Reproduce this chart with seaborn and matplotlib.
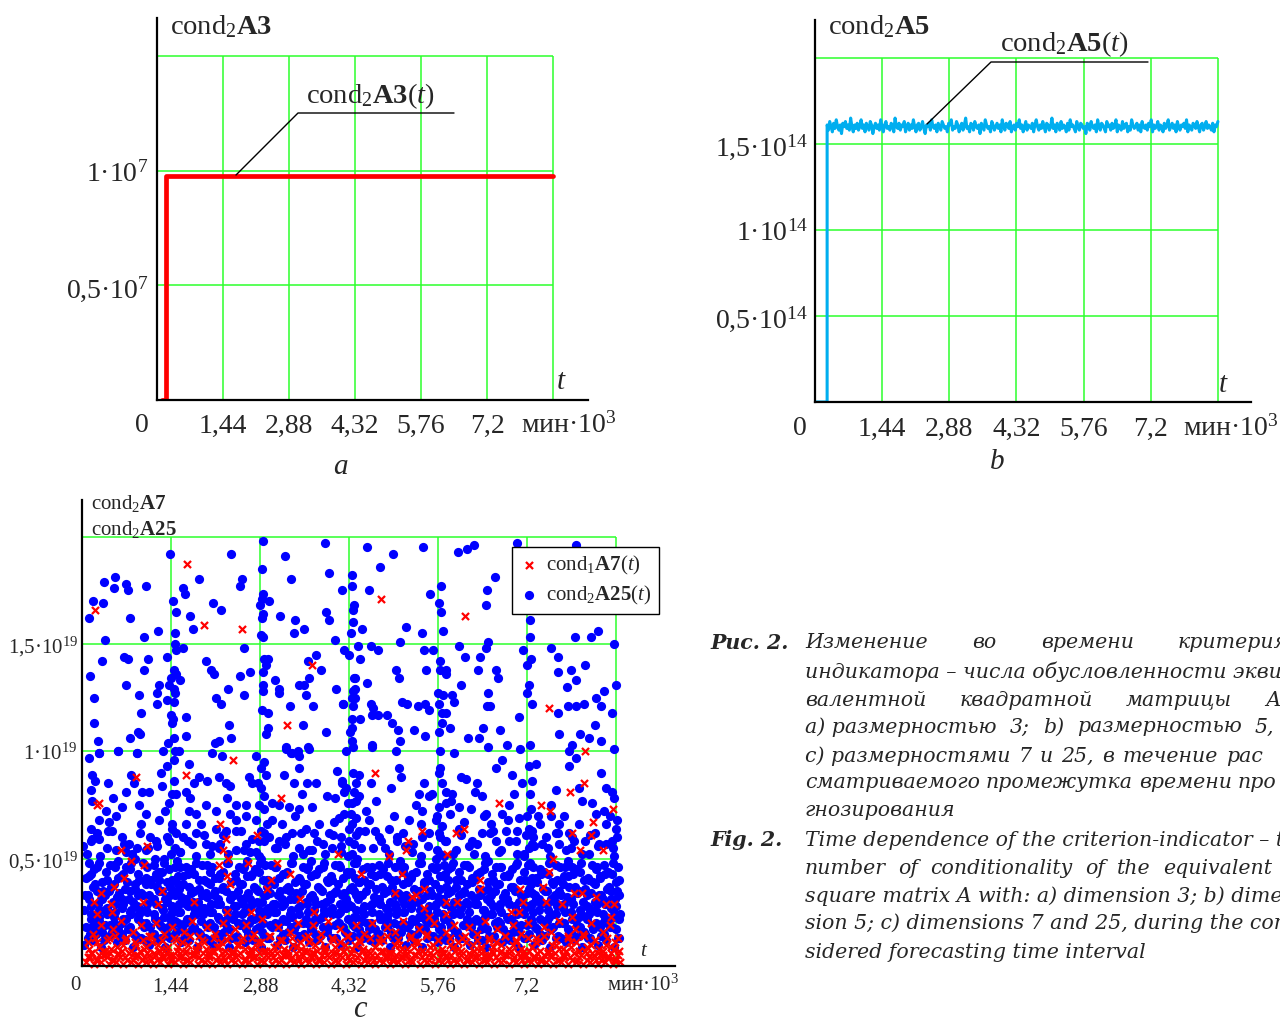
import numpy as np
import pandas as pd
import matplotlib
matplotlib.use('Agg')
import matplotlib.pyplot as plt
from matplotlib.lines import Line2D
import seaborn as sns

sns.set_style('white')
plt.rcParams['font.family'] = ['Liberation Serif', 'DejaVu Serif']
plt.rcParams['mathtext.fontset'] = 'custom'
plt.rcParams['mathtext.rm'] = 'Liberation Serif'
plt.rcParams['mathtext.it'] = 'Liberation Serif:italic'
plt.rcParams['mathtext.bf'] = 'Liberation Serif:bold'

# ---- shared axis data (time in 10^3 min) ----
x_ticks = [1.44, 2.88, 4.32, 5.76, 7.2, 8.64]
x_labels = ['1,44', '2,88', '4,32', '5,76', '7,2']

# ---- panel a: cond2 A3 (units of 1e7) ----
a_t = [0.10, 0.20, 0.20, 8.64]
a_val = [0.0, 0.0, 0.98, 0.98]
a_yticks = [0.5, 1.0]
a_ylabels = ['0,5·10$^{7}$', '1·10$^{7}$']

# ---- panel b: cond2 A5 (units of 1e14), values in hundredths ----
b_start = [0.0, 0.26]
b_noise = [
    161, 158, 163, 160, 157, 162, 159, 164, 160, 158, 161, 156, 162, 160, 163, 159, 161, 158, 165, 160,
    157, 161, 159, 162, 158, 160, 164, 159, 161, 157, 162, 160, 158, 163, 161, 156, 160, 162, 159, 161,
    158, 164, 160, 157, 161, 163, 159, 160, 158, 162, 161, 157, 165, 160, 159, 162, 158, 161, 160, 163,
    157, 160, 162, 158, 161, 159, 164, 160, 157, 161, 162, 158, 160, 163, 159, 156, 161, 160, 162, 158,
    164, 160, 159, 161, 157, 162, 160, 158, 163, 161, 159, 160, 157, 162, 161, 164, 158, 160, 159, 163,
    161, 157, 160, 162, 158, 161, 165, 159, 160, 157, 162, 161, 158, 163, 160, 159, 161, 156, 162, 160,
    158, 164, 161, 159, 160, 157, 163, 161, 158, 160, 162, 159, 161, 157, 164, 160, 158, 162, 161, 159,
    163, 157, 160, 161, 158, 162, 160, 164, 159, 161, 157, 160, 163, 158, 161, 160, 159, 162, 157, 161,
    164, 160, 158, 161, 159, 163, 160, 157, 162, 161, 158, 160, 165, 159, 161, 157, 162, 160, 158, 163,
    159, 161, 160, 157, 162, 158, 164, 160, 161, 159, 157, 163, 160, 158, 162, 161, 159, 160, 156, 162,
    161, 158, 163, 160, 159, 161, 157, 164, 160, 158, 162, 161, 159, 157, 163, 160, 161, 158, 162, 159,
    160, 164, 157, 161, 160, 158, 163, 159, 161, 162, 157, 160, 158, 164, 161, 159, 160, 162, 158, 161,
    157, 163, 160, 159, 161, 158, 162, 160, 164, 157, 161, 159, 160, 163, 158, 161, 160, 157, 162, 159,
    161, 164, 158, 160, 162, 159, 161, 157, 163, 160, 158, 161, 160, 162, 159, 164, 157, 161, 160, 158,
    162, 161, 159, 163, 160, 157, 161, 162, 158, 160, 163, 159, 161, 160, 158, 162, 157, 161, 160, 163,
]
b_yticks = [0.5, 1.0, 1.5]
b_ylabels = ['0,5·10$^{14}$', '1·10$^{14}$', '1,5·10$^{14}$']

# ---- panel c: scatter (t*100, value*100 in units of 1e19) ----
blue_top = [
    (142, 192), (241, 192), (293, 198), (393, 197), (328, 191), (291, 185), (400, 183), (53, 181),
    (36, 179), (52, 176), (71, 178), (74, 175), (104, 177), (189, 180), (259, 180), (256, 177),
    (163, 176), (167, 173), (338, 180), (421, 175), (437, 182), (437, 177), (293, 173), (291, 171),
    (303, 170), (288, 168), (293, 164), (291, 162), (18, 170), (34, 169), (11, 162), (78, 162),
    (147, 170), (152, 165), (212, 169), (225, 166), (175, 163), (180, 157), (123, 156), (100, 153),
    (37, 152), (150, 155), (320, 163), (345, 161), (359, 157), (343, 155), (395, 165), (400, 161),
    (438, 166), (438, 160), (409, 152), (290, 154), (293, 153),
    (150, 150), (152, 147), (163, 148), (262, 148), (68, 144), (74, 143), (32, 142), (107, 143),
    (138, 144), (201, 142), (209, 138), (214, 136), (149, 138), (152, 136), (159, 133), (144, 134),
    (13, 135), (100, 138), (272, 137), (256, 135), (294, 143), (301, 143), (298, 140), (293, 137),
    (312, 133), (379, 145), (366, 142), (387, 138), (367, 134), (71, 131), (125, 131), (121, 127),
    (141, 131), (149, 129), (150, 127), (92, 126), (236, 129), (262, 126), (217, 125), (225, 122),
    (293, 131), (293, 128), (319, 129), (319, 127), (351, 131), (359, 131), (362, 126), (19, 125),
    (121, 122), (138, 124), (149, 123), (337, 121), (374, 121), (411, 129), (422, 122), (95, 118),
    (144, 117), (147, 115), (146, 113), (168, 116), (291, 119), (301, 118), (19, 113), (91, 109),
    (94, 108), (78, 106), (26, 105), (149, 106), (168, 107), (139, 104), (215, 104), (222, 105),
    (241, 106), (238, 112), (301, 111), (298, 108), (358, 112), (395, 109), (330, 102), (338, 99),
    (349, 100), (366, 102), (427, 100), (58, 100), (28, 99), (131, 100), (150, 100), (89, 99),
    (437, 105), (442, 134), (442, 129), (442, 125), (437, 111),
    (461, 195), (503, 192), (552, 195), (608, 193), (623, 194), (634, 196), (705, 197), (799, 196),
    (482, 186), (464, 175), (563, 173), (581, 177), (578, 169), (581, 165), (668, 181), (655, 175),
    (654, 168), (440, 168), (453, 157), (524, 158), (550, 155), (515, 151), (584, 156), (435, 155),
    (657, 151), (725, 161), (725, 153), (798, 153), (824, 153), (835, 156), (861, 150),
    (424, 147), (432, 145), (447, 149), (450, 143), (468, 149), (479, 147), (553, 147), (569, 147),
    (610, 149), (620, 144), (644, 144), (654, 148), (714, 147), (727, 143), (759, 148), (770, 144),
    (791, 138), (770, 137), (720, 140), (579, 142), (579, 138), (589, 138), (589, 136), (557, 138),
    (508, 138), (513, 134), (461, 132), (440, 134), (641, 138), (671, 138), (673, 134), (613, 131),
    (723, 131), (785, 130), (864, 131), (438, 128), (437, 125), (438, 121), (422, 122), (468, 122),
    (471, 120), (518, 123), (526, 122), (544, 121), (555, 122), (561, 119), (576, 127), (584, 126),
    (578, 122), (583, 118), (589, 118), (599, 126), (603, 123), (657, 127), (655, 121), (660, 121),
    (707, 116), (720, 127), (728, 122), (786, 121), (799, 121), (812, 122), (832, 125), (840, 121),
    (437, 115), (450, 115), (469, 117), (479, 117), (493, 117), (502, 113), (511, 110), (537, 110),
    (555, 107), (578, 109), (583, 113), (595, 111), (649, 111), (676, 110), (773, 108), (807, 108),
    (820, 106), (840, 105), (434, 109), (515, 105), (469, 103), (438, 102), (508, 100), (625, 106),
    (642, 106), (657, 102), (688, 103), (725, 103), (709, 101), (793, 103), (788, 100), (861, 101),
    (579, 100), (602, 99), (815, 140), (845, 128), (830, 112), (858, 118), (800, 133), (770, 118),
]
blue_mid = [
    (11, 97), (28, 99), (58, 100), (89, 99), (16, 89), (21, 86), (42, 85), (79, 89), (84, 85),
    (97, 81), (108, 81), (71, 81), (16, 77), (39, 72), (128, 90), (138, 93), (149, 96), (149, 86),
    (152, 80), (157, 100), (173, 94), (181, 85), (189, 88), (202, 86), (222, 88), (233, 85),
    (168, 81), (210, 99), (226, 98), (270, 88), (275, 85), (282, 98), (294, 95), (290, 92),
    (298, 89), (290, 83), (294, 79), (330, 101), (340, 99), (351, 98), (351, 92), (367, 101),
    (327, 89), (343, 85), (364, 85), (379, 85), (396, 79), (421, 85), (413, 91), (427, 83),
    (440, 81), (443, 77), (235, 78), (249, 75), (265, 75), (201, 75), (217, 72), (319, 75),
    (335, 74), (351, 73), (372, 74), (307, 76), (65, 74), (92, 75), (104, 71), (141, 76),
    (173, 72), (184, 71), (125, 68), (44, 67), (28, 68), (15, 64), (49, 63), (65, 60), (76, 57),
    (28, 59), (15, 58), (89, 55), (104, 54), (121, 56), (141, 58), (152, 62), (168, 66),
    (184, 62), (201, 57), (217, 64), (233, 63), (249, 68), (265, 70), (282, 68), (290, 63),
    (294, 58), (307, 68), (324, 66), (340, 62), (362, 64), (383, 66), (400, 62), (416, 69),
    (432, 64), (443, 69), (319, 58), (351, 55), (372, 54), (405, 55), (265, 57), (249, 54),
    (222, 55),
    (469, 102), (513, 92), (516, 88), (553, 85), (578, 90), (583, 85), (589, 81), (599, 80),
    (613, 88), (621, 87), (637, 81), (647, 79), (670, 92), (680, 96), (696, 89), (712, 85),
    (723, 93), (735, 94), (767, 82), (788, 93), (799, 97), (804, 83), (825, 76), (848, 83),
    (858, 81), (861, 78), (421, 86), (424, 81), (448, 89), (468, 85), (476, 77), (448, 79),
    (437, 76), (540, 75), (561, 79), (550, 72), (578, 74), (589, 76), (610, 74), (629, 73),
    (654, 71), (662, 66), (680, 71), (691, 75), (707, 69), (727, 73), (739, 70), (760, 75),
    (772, 66), (788, 62), (809, 77), (832, 71), (848, 66), (864, 64), (437, 66), (448, 63),
    (464, 68), (481, 60), (497, 64), (510, 58), (529, 68), (550, 60), (573, 68), (578, 62),
    (589, 58), (610, 64), (631, 58), (647, 62), (670, 58), (686, 63), (702, 58), (723, 64),
    (728, 57), (751, 60), (772, 57), (793, 60), (815, 58), (837, 57), (858, 58), (419, 60),
    (424, 71),
    (8, 52), (25, 62), (40, 55), (55, 70), (72, 53), (95, 66), (110, 60), (118, 50), (135, 72),
    (145, 66), (158, 53), (163, 60), (178, 57), (193, 66), (208, 52), (228, 61), (240, 71),
    (258, 63), (272, 53), (286, 58), (287, 75), (300, 66), (312, 55), (330, 60), (345, 70),
    (358, 52), (375, 62), (390, 57), (408, 67), (420, 53), (430, 76), (435, 71), (440, 57),
    (444, 85), (452, 55), (460, 72), (475, 63), (490, 55), (505, 70), (520, 62), (535, 53),
    (548, 66), (560, 56), (567, 80), (574, 70), (580, 52), (583, 65), (595, 71), (605, 54),
    (618, 67), (635, 52), (650, 70), (660, 62), (675, 53), (690, 68), (705, 63), (715, 52),
    (720, 70), (726, 80), (730, 60), (742, 66), (755, 55), (768, 62), (780, 70), (792, 55),
    (805, 66), (820, 52), (830, 62), (845, 72), (860, 55), (866, 68), (15, 82), (50, 78),
    (130, 84), (146, 80), (175, 78), (240, 84), (285, 85), (295, 73), (356, 80), (410, 78),
    (438, 90), (500, 83), (545, 80), (580, 92), (598, 77), (640, 85), (700, 80), (728, 86),
    (760, 70), (840, 90), (855, 70),
]
blue_low = [
    (10, 13), (14, 24), (9, 33), (12, 42), (16, 18), (11, 48), (22, 15), (26, 29), (21, 38), (24, 46),
    (27, 21), (35, 12), (38, 26), (34, 35), (39, 44), (37, 19), (33, 31), (48, 16), (51, 23), (47, 37),
    (52, 47), (50, 30), (61, 13), (64, 27), (60, 34), (63, 42), (65, 20), (59, 49), (74, 17), (77, 25),
    (73, 39), (78, 45), (76, 31), (87, 14), (90, 22), (86, 36), (91, 43), (89, 28), (85, 50), (100, 18),
    (103, 26), (99, 33), (104, 41), (102, 12), (113, 15), (116, 24), (112, 38), (117, 47), (115, 31),
    (126, 19), (129, 27), (125, 35), (130, 44), (128, 13), (124, 40), (139, 14), (142, 22), (138, 30),
    (143, 37), (141, 45), (144, 52), (140, 18), (145, 28), (152, 16), (155, 25), (151, 33), (156, 42),
    (154, 49), (150, 21), (157, 36), (165, 13), (168, 29), (164, 38), (169, 46), (167, 20), (178, 17),
    (181, 24), (177, 34), (182, 43), (180, 30), (191, 15), (194, 27), (190, 36), (195, 47), (193, 21),
    (204, 18), (207, 25), (203, 39), (208, 44), (206, 12), (202, 32), (217, 14), (220, 23), (216, 35),
    (221, 41), (219, 29), (230, 16), (233, 26), (229, 37), (234, 48), (232, 20), (243, 13), (246, 28),
    (242, 33), (247, 43), (245, 22), (256, 19), (259, 24), (255, 38), (260, 45), (258, 31), (269, 15),
    (272, 27), (268, 34), (273, 42), (271, 20), (267, 49), (282, 17), (285, 23), (281, 36), (286, 44),
    (284, 30), (287, 51), (280, 12), (295, 14), (298, 26), (294, 33), (299, 40), (297, 47), (293, 20),
    (300, 37), (308, 18), (311, 25), (307, 39), (312, 46), (310, 29), (321, 13), (324, 28), (320, 35),
    (325, 43), (323, 21), (334, 16), (337, 24), (333, 37), (338, 48), (336, 31), (347, 19), (350, 27),
    (346, 34), (351, 41), (349, 14), (360, 15), (363, 22), (359, 38), (364, 45), (362, 30), (373, 17),
    (376, 26), (372, 33), (377, 43), (375, 20), (371, 49), (386, 14), (389, 29), (385, 36), (390, 46),
    (388, 23), (399, 18), (402, 25), (398, 39), (403, 42), (401, 31), (412, 13), (415, 24), (411, 35),
    (416, 47), (414, 20), (425, 16), (428, 27), (424, 34), (429, 44), (427, 30), (430, 51), (438, 19),
    (441, 23), (437, 37), (442, 41), (440, 48), (436, 28), (443, 33), (439, 14), (451, 15), (454, 26),
    (450, 33), (455, 45), (453, 21), (449, 39), (464, 17), (467, 28), (463, 38), (468, 43), (466, 12),
    (477, 14), (480, 24), (476, 36), (481, 47), (479, 30), (490, 18), (493, 22), (489, 34), (494, 42),
    (492, 27), (503, 13), (506, 29), (502, 37), (507, 46), (505, 20), (516, 16), (519, 25), (515, 33),
    (520, 44), (518, 31), (514, 49), (529, 19), (532, 27), (528, 39), (533, 41), (531, 14), (542, 15),
    (545, 23), (541, 35), (546, 48), (544, 30), (555, 17), (558, 26), (554, 38), (559, 43), (557, 21),
    (568, 14), (571, 28), (567, 33), (572, 45), (570, 22), (573, 50), (581, 18), (584, 24), (580, 36),
    (585, 42), (583, 31), (586, 47), (579, 13), (594, 13), (597, 27), (593, 34), (598, 46), (596, 20),
    (592, 40), (607, 16), (610, 25), (606, 37), (611, 44), (609, 29), (620, 19), (623, 22), (619, 35),
    (624, 47), (622, 30), (633, 15), (636, 29), (632, 39), (637, 41), (635, 21), (646, 17), (649, 26),
    (645, 33), (650, 45), (648, 12), (659, 14), (662, 24), (658, 36), (663, 43), (661, 30), (657, 49),
    (672, 18), (675, 27), (671, 38), (676, 46), (674, 21), (685, 13), (688, 23), (684, 34), (689, 42),
    (687, 31), (698, 16), (701, 28), (697, 37), (702, 47), (700, 20), (711, 19), (714, 25), (710, 33),
    (715, 44), (713, 30), (716, 51), (724, 15), (727, 22), (723, 36), (728, 41), (726, 48), (722, 28),
    (729, 34), (737, 17), (740, 26), (736, 39), (741, 45), (739, 12), (735, 31), (750, 14), (753, 29),
    (749, 35), (754, 43), (752, 21), (763, 18), (766, 24), (762, 38), (767, 47), (765, 30), (776, 13),
    (779, 27), (775, 33), (780, 42), (778, 20), (789, 16), (792, 25), (788, 37), (793, 46), (791, 31),
    (787, 49), (802, 19), (805, 23), (801, 34), (806, 44), (804, 14), (815, 15), (818, 28), (814, 36),
    (819, 41), (817, 22), (828, 17), (831, 26), (827, 39), (832, 45), (830, 30), (841, 14), (844, 24),
    (840, 33), (845, 47), (843, 20), (839, 42), (854, 18), (857, 27), (853, 37), (858, 43), (856, 31),
    (867, 13), (869, 22), (866, 35), (868, 46), (865, 28),
    (4, 10), (6, 18), (3, 26), (5, 33), (7, 41), (2, 56), (17, 12), (19, 21), (15, 28), (18, 37),
    (20, 45), (16, 59), (30, 9), (32, 16), (28, 23), (31, 31), (33, 39), (29, 51), (43, 14), (45, 19),
    (41, 27), (44, 35), (46, 47), (42, 63), (56, 11), (58, 17), (54, 25), (57, 32), (59, 41), (55, 54),
    (69, 12), (71, 22), (67, 29), (70, 36), (72, 46), (68, 57), (82, 9), (84, 15), (80, 24), (83, 30),
    (85, 38), (81, 52), (95, 13), (97, 20), (93, 27), (96, 34), (98, 48), (94, 62), (108, 10), (110, 18),
    (106, 25), (109, 33), (111, 40), (107, 55), (121, 12), (123, 21), (119, 29), (122, 37), (124, 44),
    (120, 58), (134, 9), (136, 17), (132, 23), (135, 31), (137, 39), (133, 50), (138, 60), (147, 14),
    (149, 20), (145, 27), (148, 35), (150, 46), (146, 64), (151, 55), (160, 11), (162, 17), (158, 25),
    (161, 32), (163, 42), (159, 53), (173, 12), (175, 22), (171, 28), (174, 37), (176, 45), (172, 58),
    (186, 9), (188, 16), (184, 24), (187, 30), (189, 40), (185, 51), (199, 13), (201, 19), (197, 27),
    (200, 34), (202, 47), (198, 61), (212, 10), (214, 18), (210, 25), (213, 33), (215, 41), (211, 56),
    (225, 12), (227, 21), (223, 29), (226, 36), (228, 44), (224, 57), (238, 9), (240, 17), (236, 23),
    (239, 31), (241, 39), (237, 52), (251, 14), (253, 20), (249, 28), (252, 35), (254, 46), (250, 63),
    (264, 11), (266, 17), (262, 25), (265, 32), (267, 42), (263, 54), (277, 12), (279, 22), (275, 29),
    (278, 37), (280, 45), (276, 59), (281, 53), (290, 9), (292, 16), (288, 24), (291, 30), (293, 40),
    (289, 50), (294, 62), (303, 13), (305, 19), (301, 27), (304, 34), (306, 47), (302, 60), (316, 10),
    (318, 18), (314, 25), (317, 33), (319, 41), (315, 55), (329, 12), (331, 21), (327, 29), (330, 36),
    (332, 44), (328, 57), (342, 9), (344, 17), (340, 23), (343, 31), (345, 39), (341, 51), (355, 14),
    (357, 20), (353, 28), (356, 35), (358, 46), (354, 62), (368, 11), (370, 17), (366, 25), (369, 32),
    (371, 42), (367, 54), (381, 12), (383, 22), (379, 29), (382, 37), (384, 45), (380, 58), (394, 9),
    (396, 16), (392, 24), (395, 30), (397, 40), (393, 52), (407, 13), (409, 19), (405, 27), (408, 34),
    (410, 47), (406, 61), (420, 10), (422, 18), (418, 25), (421, 33), (423, 41), (419, 56), (433, 12),
    (435, 21), (431, 29), (434, 36), (436, 44), (432, 58), (437, 52), (446, 9), (448, 17), (444, 23),
    (447, 31), (449, 39), (445, 50), (443, 61), (459, 14), (461, 20), (457, 28), (460, 35), (462, 46),
    (458, 63), (472, 11), (474, 17), (470, 25), (473, 32), (475, 42), (471, 55), (485, 12), (487, 22),
    (483, 29), (486, 37), (488, 45), (484, 58), (498, 9), (500, 16), (496, 24), (499, 30), (501, 40),
    (497, 52), (511, 13), (513, 19), (509, 27), (512, 34), (514, 47), (510, 60), (524, 10), (526, 18),
    (522, 25), (525, 33), (527, 41), (523, 56), (537, 12), (539, 21), (535, 29), (538, 36), (540, 44),
    (536, 57), (550, 9), (552, 17), (548, 23), (551, 31), (553, 39), (549, 51), (563, 14), (565, 20),
    (561, 28), (564, 35), (566, 46), (562, 62), (576, 11), (578, 17), (574, 25), (577, 32), (579, 42),
    (575, 54), (580, 60), (589, 12), (591, 22), (587, 29), (590, 37), (592, 45), (588, 58), (586, 51),
    (602, 9), (604, 16), (600, 24), (603, 30), (605, 40), (601, 52), (615, 13), (617, 19), (613, 27),
    (616, 34), (618, 47), (614, 61), (628, 10), (630, 18), (626, 25), (629, 33), (631, 41), (627, 56),
    (641, 12), (643, 21), (639, 29), (642, 36), (644, 44), (640, 57), (654, 9), (656, 17), (652, 23),
    (655, 31), (657, 39), (653, 51), (667, 14), (669, 20), (665, 28), (668, 35), (670, 46), (666, 63),
    (680, 11), (682, 17), (678, 25), (681, 32), (683, 42), (679, 54), (693, 12), (695, 22), (691, 29),
    (694, 37), (696, 45), (692, 58), (706, 9), (708, 16), (704, 24), (707, 30), (709, 40), (705, 52),
    (719, 13), (721, 19), (717, 27), (720, 34), (722, 47), (718, 61), (723, 55), (732, 10), (734, 18),
    (730, 25), (733, 33), (735, 41), (731, 56), (729, 63), (745, 12), (747, 21), (743, 29), (746, 36),
    (748, 44), (744, 57), (758, 9), (760, 17), (756, 23), (759, 31), (761, 39), (757, 51), (771, 14),
    (773, 20), (769, 28), (772, 35), (774, 46), (770, 62), (784, 11), (786, 17), (782, 25), (785, 32),
    (787, 42), (783, 54), (797, 12), (799, 22), (795, 29), (798, 37), (800, 45), (796, 58), (810, 9),
    (812, 16), (808, 24), (811, 30), (813, 40), (809, 52), (823, 13), (825, 19), (821, 27), (824, 34),
    (826, 47), (822, 61), (836, 10), (838, 18), (834, 25), (837, 33), (839, 41), (835, 56), (849, 12),
    (851, 21), (847, 29), (850, 36), (852, 44), (848, 57), (862, 9), (864, 17), (860, 23), (863, 31),
    (865, 39), (861, 51), (866, 60),
    (13, 15), (14, 22), (12, 31), (15, 43), (26, 18), (27, 26), (25, 35), (28, 48), (39, 13), (40, 24),
    (38, 33), (41, 40), (52, 20), (53, 29), (51, 38), (54, 46), (65, 15), (66, 22), (64, 31), (67, 43),
    (78, 18), (79, 26), (77, 35), (80, 48), (91, 13), (92, 24), (90, 33), (93, 40), (104, 20), (105, 29),
    (103, 38), (106, 46), (117, 15), (118, 22), (116, 31), (119, 43), (130, 18), (131, 26), (129, 35),
    (132, 48), (143, 13), (144, 24), (142, 33), (145, 40), (156, 20), (157, 29), (155, 38), (158, 46),
    (169, 15), (170, 22), (168, 31), (171, 43), (182, 18), (183, 26), (181, 35), (184, 48), (195, 13),
    (196, 24), (194, 33), (197, 40), (208, 20), (209, 29), (207, 38), (210, 46), (221, 15), (222, 22),
    (220, 31), (223, 43), (234, 18), (235, 26), (233, 35), (236, 48), (247, 13), (248, 24), (246, 33),
    (249, 40), (260, 20), (261, 29), (259, 38), (262, 46), (273, 15), (274, 22), (272, 31), (275, 43),
    (286, 18), (287, 26), (285, 35), (288, 48), (299, 13), (300, 24), (298, 33), (301, 40), (312, 20),
    (313, 29), (311, 38), (314, 46), (325, 15), (326, 22), (324, 31), (327, 43), (338, 18), (339, 26),
    (337, 35), (340, 48), (351, 13), (352, 24), (350, 33), (353, 40), (364, 20), (365, 29), (363, 38),
    (366, 46), (377, 15), (378, 22), (376, 31), (379, 43), (390, 18), (391, 26), (389, 35), (392, 48),
    (403, 13), (404, 24), (402, 33), (405, 40), (416, 20), (417, 29), (415, 38), (418, 46), (429, 15),
    (430, 22), (428, 31), (431, 43), (442, 18), (443, 26), (441, 35), (444, 48), (455, 13), (456, 24),
    (454, 33), (457, 40), (468, 20), (469, 29), (467, 38), (470, 46), (481, 15), (482, 22), (480, 31),
    (483, 43), (494, 18), (495, 26), (493, 35), (496, 48), (507, 13), (508, 24), (506, 33), (509, 40),
    (520, 20), (521, 29), (519, 38), (522, 46), (533, 15), (534, 22), (532, 31), (535, 43), (546, 18),
    (547, 26), (545, 35), (548, 48), (559, 13), (560, 24), (558, 33), (561, 40), (572, 20), (573, 29),
    (571, 38), (574, 46), (585, 15), (586, 22), (584, 31), (587, 43), (598, 18), (599, 26), (597, 35),
    (600, 48), (611, 13), (612, 24), (610, 33), (613, 40), (624, 20), (625, 29), (623, 38), (626, 46),
    (637, 15), (638, 22), (636, 31), (639, 43), (650, 18), (651, 26), (649, 35), (652, 48), (663, 13),
    (664, 24), (662, 33), (665, 40), (676, 20), (677, 29), (675, 38), (678, 46), (689, 15), (690, 22),
    (688, 31), (691, 43), (702, 18), (703, 26), (701, 35), (704, 48), (715, 13), (716, 24), (714, 33),
    (717, 40), (728, 20), (729, 29), (727, 38), (730, 46), (741, 15), (742, 22), (740, 31), (743, 43),
    (754, 18), (755, 26), (753, 35), (756, 48), (767, 13), (768, 24), (766, 33), (769, 40), (780, 20),
    (781, 29), (779, 38), (782, 46), (793, 15), (794, 22), (792, 31), (795, 43), (806, 18), (807, 26),
    (805, 35), (808, 48), (819, 13), (820, 24), (818, 33), (821, 40), (832, 20), (833, 29), (831, 38),
    (834, 46), (845, 15), (846, 22), (844, 31), (847, 43), (858, 18), (859, 26), (857, 35), (860, 48),
    (870, 13), (871, 24), (869, 33), (870, 40),
]
red_high = [
    (170, 187), (21, 166), (197, 159), (259, 157), (372, 140), (332, 112), (484, 171), (620, 163),
    (756, 120), (815, 100), (244, 96), (87, 88), (168, 89), (28, 76), (24, 75), (322, 78), (223, 66),
    (233, 59), (283, 61), (105, 56), (63, 54), (79, 49), (100, 47), (228, 54), (236, 50), (222, 47),
    (269, 48), (315, 48), (414, 52), (337, 43), (235, 42), (68, 41), (306, 40), (239, 38), (299, 36),
    (129, 35), (52, 37), (31, 34), (19, 30), (47, 29), (99, 30), (123, 29), (181, 30), (353, 31),
    (375, 25), (49, 25), (24, 24), (235, 25), (273, 25), (474, 90), (790, 81), (812, 85), (675, 76),
    (743, 75), (757, 72), (859, 73), (828, 67), (550, 63), (618, 64), (605, 62), (794, 62), (824, 61),
    (527, 58), (524, 54), (806, 54), (843, 54), (497, 51), (591, 52), (762, 50), (756, 44), (452, 43),
    (518, 43), (644, 40), (644, 36), (709, 36), (746, 37), (506, 34), (534, 32), (540, 33), (553, 36),
    (796, 34), (809, 34), (832, 32), (589, 30), (607, 30), (714, 30), (751, 30), (777, 29), (848, 29),
    (862, 29), (553, 27), (561, 23), (589, 24), (694, 25), (707, 25), (793, 23), (856, 23),
]
red_low = [
    (12, 8), (18, 15), (25, 11), (31, 19), (38, 7), (44, 13), (50, 17), (57, 9), (63, 21), (70, 12),
    (76, 6), (82, 16), (88, 10), (95, 19), (101, 8), (108, 14), (114, 11), (120, 20), (127, 7),
    (133, 15), (140, 9), (146, 18), (152, 12), (159, 6), (165, 16), (171, 10), (178, 21), (184, 8),
    (190, 14), (197, 11), (203, 18), (209, 7), (216, 15), (222, 9), (228, 20), (235, 12), (241, 6),
    (247, 17), (254, 10), (260, 13), (266, 19), (273, 8), (279, 15), (285, 11), (292, 22), (298, 7),
    (304, 14), (311, 9), (317, 18), (323, 12), (330, 6), (336, 16), (342, 10), (349, 20), (355, 8),
    (361, 13), (368, 11), (374, 19), (380, 7), (387, 15), (393, 9), (399, 21), (406, 12), (412, 6),
    (418, 17), (425, 10), (431, 14), (437, 8), (444, 19), (450, 11), (456, 15), (463, 7), (469, 20),
    (475, 9), (482, 13), (488, 12), (494, 18), (501, 6), (507, 16), (513, 10), (520, 21), (526, 8),
    (532, 14), (539, 11), (545, 17), (551, 7), (558, 15), (564, 9), (570, 20), (577, 12), (583, 6),
    (589, 16), (596, 10), (602, 19), (608, 8), (615, 13), (621, 11), (627, 18), (634, 7), (640, 15),
    (646, 9), (653, 21), (659, 12), (665, 6), (672, 17), (678, 10), (684, 14), (691, 8), (697, 19),
    (703, 11), (710, 15), (716, 7), (722, 20), (729, 9), (735, 13), (741, 12), (748, 18), (754, 6),
    (760, 16), (767, 10), (773, 21), (779, 8), (786, 14), (792, 11), (798, 17), (805, 7), (811, 15),
    (817, 9), (824, 20), (830, 12), (836, 6), (843, 16), (849, 10), (855, 19), (862, 8), (868, 13),
    (9, 11), (15, 6), (21, 13), (27, 9), (34, 5), (40, 12), (47, 8), (53, 14), (59, 6), (66, 10),
    (72, 13), (79, 7), (85, 11), (91, 5), (98, 12), (104, 9), (111, 14), (117, 6), (123, 10), (130, 12),
    (136, 8), (143, 5), (149, 13), (155, 9), (162, 11), (168, 7), (175, 14), (181, 6), (187, 10),
    (194, 12), (200, 8), (206, 5), (213, 13), (219, 9), (225, 11), (232, 7), (238, 14), (245, 6),
    (251, 10), (257, 12), (264, 8), (270, 5), (276, 13), (283, 9), (289, 11), (295, 7), (302, 14),
    (308, 6), (315, 10), (321, 12), (327, 8), (334, 5), (340, 13), (346, 9), (353, 11), (359, 7),
    (366, 14), (372, 6), (378, 10), (385, 12), (391, 8), (397, 5), (404, 13), (410, 9), (417, 11),
    (423, 7), (429, 14), (436, 6), (442, 10), (448, 12), (455, 8), (461, 5), (467, 13), (474, 9),
    (480, 11), (487, 7), (493, 14), (499, 6), (506, 10), (512, 12), (518, 8), (525, 5), (531, 13),
    (538, 9), (544, 11), (550, 7), (557, 14), (563, 6), (569, 10), (576, 12), (582, 8), (589, 5),
    (595, 13), (601, 9), (608, 11), (614, 7), (620, 14), (627, 6), (633, 10), (640, 12), (646, 8),
    (652, 5), (659, 13), (665, 9), (671, 11), (678, 7), (684, 14), (691, 6), (697, 10), (703, 12),
    (710, 8), (716, 5), (722, 13), (729, 9), (735, 11), (741, 7), (748, 14), (754, 6), (761, 10),
    (767, 12), (773, 8), (780, 5), (786, 13), (792, 9), (799, 11), (805, 7), (812, 14), (818, 6),
    (824, 10), (831, 12), (837, 8), (843, 5), (850, 13), (856, 9), (863, 11), (869, 7),
]
red_band = [
    (7, 2), (13, 4), (19, 1), (25, 3), (31, 2), (37, 5), (43, 1), (49, 3), (55, 2), (61, 4), (67, 1),
    (73, 3), (79, 2), (85, 4), (91, 1), (97, 3), (103, 2), (109, 5), (115, 1), (121, 3), (127, 2),
    (133, 4), (139, 1), (145, 3), (151, 2), (157, 4), (163, 1), (169, 3), (175, 2), (181, 5), (187, 1),
    (193, 3), (199, 2), (205, 4), (211, 1), (217, 3), (223, 2), (229, 4), (235, 1), (241, 3), (247, 2),
    (253, 5), (259, 1), (265, 3), (271, 2), (277, 4), (283, 1), (289, 3), (295, 2), (301, 4), (307, 1),
    (313, 3), (319, 2), (325, 5), (331, 1), (337, 3), (343, 2), (349, 4), (355, 1), (361, 3), (367, 2),
    (373, 4), (379, 1), (385, 3), (391, 2), (397, 5), (403, 1), (409, 3), (415, 2), (421, 4), (427, 1),
    (433, 3), (439, 2), (445, 4), (451, 1), (457, 3), (463, 2), (469, 5), (475, 1), (481, 3), (487, 2),
    (493, 4), (499, 1), (505, 3), (511, 2), (517, 4), (523, 1), (529, 3), (535, 2), (541, 5), (547, 1),
    (553, 3), (559, 2), (565, 4), (571, 1), (577, 3), (583, 2), (589, 4), (595, 1), (601, 3), (607, 2),
    (613, 5), (619, 1), (625, 3), (631, 2), (637, 4), (643, 1), (649, 3), (655, 2), (661, 4), (667, 1),
    (673, 3), (679, 2), (685, 5), (691, 1), (697, 3), (703, 2), (709, 4), (715, 1), (721, 3), (727, 2),
    (733, 4), (739, 1), (745, 3), (751, 2), (757, 5), (763, 1), (769, 3), (775, 2), (781, 4), (787, 1),
    (793, 3), (799, 2), (805, 4), (811, 1), (817, 3), (823, 2), (829, 5), (835, 1), (841, 3), (847, 2),
    (853, 4), (859, 1), (865, 3), (871, 2),
    (10, 4), (16, 6), (22, 3), (28, 5), (34, 7), (40, 4), (46, 6), (52, 3), (58, 5), (64, 7), (70, 4),
    (76, 6), (82, 3), (88, 5), (94, 7), (100, 4), (106, 6), (112, 3), (118, 5), (124, 7), (130, 4),
    (136, 6), (142, 3), (148, 5), (154, 7), (160, 4), (166, 6), (172, 3), (178, 5), (184, 7), (190, 4),
    (196, 6), (202, 3), (208, 5), (214, 7), (220, 4), (226, 6), (232, 3), (238, 5), (244, 7), (250, 4),
    (256, 6), (262, 3), (268, 5), (274, 7), (280, 4), (286, 6), (292, 3), (298, 5), (304, 7), (310, 4),
    (316, 6), (322, 3), (328, 5), (334, 7), (340, 4), (346, 6), (352, 3), (358, 5), (364, 7), (370, 4),
    (376, 6), (382, 3), (388, 5), (394, 7), (400, 4), (406, 6), (412, 3), (418, 5), (424, 7), (430, 4),
    (436, 6), (442, 3), (448, 5), (454, 7), (460, 4), (466, 6), (472, 3), (478, 5), (484, 7), (490, 4),
    (496, 6), (502, 3), (508, 5), (514, 7), (520, 4), (526, 6), (532, 3), (538, 5), (544, 7), (550, 4),
    (556, 6), (562, 3), (568, 5), (574, 7), (580, 4), (586, 6), (592, 3), (598, 5), (604, 7), (610, 4),
    (616, 6), (622, 3), (628, 5), (634, 7), (640, 4), (646, 6), (652, 3), (658, 5), (664, 7), (670, 4),
    (676, 6), (682, 3), (688, 5), (694, 7), (700, 4), (706, 6), (712, 3), (718, 5), (724, 7), (730, 4),
    (736, 6), (742, 3), (748, 5), (754, 7), (760, 4), (766, 6), (772, 3), (778, 5), (784, 7), (790, 4),
    (796, 6), (802, 3), (808, 5), (814, 7), (820, 4), (826, 6), (832, 3), (838, 5), (844, 7), (850, 4),
    (856, 6), (862, 3), (868, 5),
]
c_yticks = [0.5, 1.0, 1.5]
c_ylabels = ['0,5·10$^{19}$', '1·10$^{19}$', '1,5·10$^{19}$']

# ---- caption text (line centre y in px, bold label, words, x of last word if justified) ----
caption_lines = [
    (643, 'Рис. 2.', ['Изменение', 'во', 'времени', 'критерия'], 1178),
    (672, None, ['индикатора – числа обусловленности экви'], None),
    (700, None, ['валентной', 'квадратной', 'матрицы', 'А'], 1265),
    (727, None, ['a) размерностью', '3;', 'b)', 'размерностью', '5,'], 1255),
    (756, None, ['c) размерностями', '7', 'и', '25,', 'в', 'течение', 'рас'], 1226),
    (783, None, ['сматриваемого', 'промежутка', 'времени', 'про'], 1211),
    (811, None, ['гнозирования'], None),
    (840, 'Fig. 2.', ['Time dependence of the criterion-indicator – the'], None),
    (868, None, ['number', 'of', 'conditionality', 'of', 'the', 'equivalent'], 1163),
    (896, None, ['square matrix A with: a) dimension 3; b) dimen'], None),
    (923, None, ['sion 5; c) dimensions 7 and 25, during the con'], None),
    (952, None, ['sidered forecasting time interval'], None),
]

GREEN = '#2cff2c'
CAP_FONT = 'DejaVu Serif'
W, H = 1280, 1023
fig = plt.figure(figsize=(W / 100, H / 100), dpi=100)
fig.patch.set_facecolor('white')
renderer = fig.canvas.get_renderer()


def px_axes(x0, y0, x1, y1):
    return fig.add_axes([x0 / W, 1 - y1 / H, (x1 - x0) / W, (y1 - y0) / H])


def ptext(x, y, s, **kw):
    kw.setdefault('va', 'center')
    return fig.text(x / W, 1 - y / H, s, **kw)


def pline(xs, ys, **kw):
    fig.add_artist(Line2D([x / W for x in xs], [1 - y / H for y in ys],
                          transform=fig.transFigure, **kw))


def text_width(s, size):
    t = fig.text(0, 0, s, fontsize=size, style='italic', family=CAP_FONT)
    w = t.get_window_extent(renderer).width
    t.remove()
    return w


def style_axes(ax, xmax, ymax, grid_top, yticks, ylabels, fs, xpad, ypad):
    ax.set_xlim(0, xmax)
    ax.set_ylim(0, ymax)
    for s in ['top', 'right']:
        ax.spines[s].set_visible(False)
    for s in ['left', 'bottom']:
        ax.spines[s].set_color('black')
        ax.spines[s].set_linewidth(1.6)
        ax.spines[s].set_zorder(5)
    ax.grid(False)
    ax.vlines(x_ticks, 0, grid_top, color=GREEN, lw=1.1, zorder=1)
    ax.hlines(yticks + [grid_top], 0, x_ticks[-1], color=GREEN, lw=1.1, zorder=1)
    ax.set_xticks(x_ticks[:5], x_labels)
    ax.set_yticks(yticks, ylabels)
    ax.tick_params(length=0, labelsize=fs)
    ax.tick_params(axis='x', pad=xpad)
    ax.tick_params(axis='y', pad=ypad)
    ax.set_xlabel('')
    ax.set_ylabel('')
    ax.set_facecolor('none')


def title_str(sub, name, arg=False):
    s = 'cond$_{%s}$$\\mathbf{%s}$' % (sub, name)
    if arg:
        s += '($\\mathit{t}$)'
    return s


UNIT = 'мин·10$^{3}$'

# ---------------- panel a ----------------
ax_a = px_axes(157, 18, 588, 400)
sns.lineplot(x=a_t, y=a_val, ax=ax_a, color='#ff0000', linewidth=3.4,
             estimator=None, sort=False, zorder=3)
style_axes(ax_a, 9.40, 1.668, 1.5, a_yticks, a_ylabels, 20, 10, 6)
ptext(142, 425, '0', fontsize=20, ha='center')
ptext(521, 425, UNIT, fontsize=20, ha='left')
ptext(170, 27, title_str('2', 'A3'), fontsize=20.5, ha='left')
ptext(306, 96, title_str('2', 'A3', True), fontsize=20.5, ha='left')
pline([236, 298, 454], [175, 113, 113], color='black', lw=1.0)
ptext(561, 382, 't', fontsize=21, ha='center', style='italic')
ptext(340, 467, 'a', fontsize=21, ha='center', style='italic')

# ---------------- panel b ----------------
ax_b = px_axes(815, 20, 1251, 402)
b_t = b_start + list(np.linspace(b_start[1], x_ticks[-1], len(b_noise)))
b_val = [0.0, 0.0] + [v / 100 for v in b_noise]
sns.lineplot(x=b_t, y=b_val, ax=ax_b, color='#00aeef', linewidth=2.2,
             estimator=None, sort=False, zorder=3)
style_axes(ax_b, 9.35, 2.22, 2.0, b_yticks, b_ylabels, 20, 11, 5)
ptext(800, 428, '0', fontsize=20, ha='center')
ptext(1183, 428, UNIT, fontsize=20, ha='left')
ptext(828, 27, title_str('2', 'A5'), fontsize=20.5, ha='left')
ptext(1000, 44, title_str('2', 'A5', True), fontsize=20.5, ha='left')
pline([927, 991, 1148], [124, 62, 62], color='black', lw=1.0)
ptext(1223, 385, 't', fontsize=21, ha='center', style='italic')
ptext(997, 462, 'b', fontsize=21, ha='center', style='italic')

# ---------------- panel c ----------------
ax_c = px_axes(82, 500, 675, 966)
blue_df = pd.DataFrame(blue_top + blue_mid + blue_low, columns=['t', 'v']) / 100
red_df = pd.DataFrame(red_high + red_low + red_band, columns=['t', 'v']) / 100
sns.scatterplot(data=blue_df, x='t', y='v', ax=ax_c, color='#0000ff', s=44,
                linewidth=0, zorder=3, label=title_str('2', 'A25', True))
sns.scatterplot(data=red_df, x='t', y='v', ax=ax_c, color='#ff0000', marker='x',
                s=26, linewidth=1.6, zorder=4, clip_on=False,
                label=title_str('1', 'A7', True))
style_axes(ax_c, 9.6, 2.17, 2.0, c_yticks, c_ylabels, 15, 8, 3)
handles, labels = ax_c.get_legend_handles_labels()
leg = ax_c.legend([handles[1], handles[0]], [labels[1], labels[0]],
                  loc='upper left', bbox_to_anchor=(0.725, 0.899), borderaxespad=0,
                  fontsize=15, frameon=True, fancybox=False, framealpha=1,
                  edgecolor='black', handletextpad=0.4, handlelength=0.9,
                  borderpad=0.35, labelspacing=0.3)
leg.get_frame().set_linewidth(1.0)
leg.set_zorder(10)
ptext(75, 985, '0', fontsize=15, ha='center')
ptext(607, 985, UNIT, fontsize=15, ha='left')
ptext(91, 504, title_str('2', 'A7'), fontsize=15, ha='left')
ptext(91, 530, title_str('2', 'A25'), fontsize=15, ha='left')
ptext(643, 951, 't', fontsize=15, ha='center', style='italic')
ptext(360, 1017, 'c', fontsize=22, ha='center', va='baseline', style='italic')

# ---------------- caption ----------------
LEFT, LINE2_W, MIN_GAP = 805, 478, 6
base = 14.0
cap_size = base * LINE2_W / text_width(caption_lines[1][2][0], base)

for y, lab, words, last_x in caption_lines:
    if lab:
        ptext(710, y, lab, fontsize=cap_size, ha='left', style='italic',
              weight='bold', family=CAP_FONT)
    if last_x is None:
        ptext(LEFT, y, ' '.join(words), fontsize=cap_size, ha='left',
              style='italic', family=CAP_FONT)
        continue
    widths = [text_width(w, cap_size) for w in words[:-1]]
    gap = max(MIN_GAP, (last_x - LEFT - sum(widths)) / (len(words) - 1))
    x = LEFT
    for w, wd in zip(words[:-1], widths):
        ptext(x, y, w, fontsize=cap_size, ha='left', style='italic', family=CAP_FONT)
        x += wd + gap
    ptext(max(x, last_x), y, words[-1], fontsize=cap_size, ha='left', style='italic',
          family=CAP_FONT)

fig.savefig('out.png', dpi=100)
